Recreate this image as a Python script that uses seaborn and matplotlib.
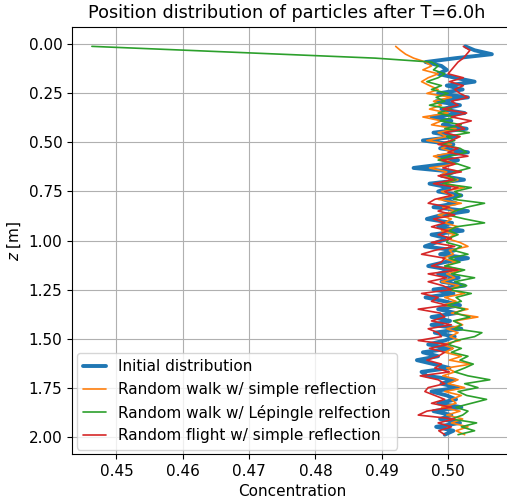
import numpy as np
import pandas as pd
import matplotlib
matplotlib.use("Agg")
import matplotlib.pyplot as plt
import seaborn as sns

# bin centres (m)
z_bins = [round(0.01 + 0.02 * i, 2) for i in range(100)]

initial = [
    0.5026, 0.5040, 0.5066, 0.5012, 0.4966, 0.4990, 0.4998, 0.4985, 0.5010, 0.5040,
    0.4998, 0.5022, 0.4985, 0.5030, 0.4982, 0.5018, 0.4990, 0.5025, 0.4975, 0.5005,
    0.4992, 0.5028, 0.4978, 0.5012, 0.4962, 0.5008, 0.4988, 0.5030, 0.4985, 0.5015,
    0.4995, 0.4948, 0.5010, 0.4990, 0.5024, 0.4972, 0.5002, 0.4985, 0.5020, 0.4993,
    0.5012, 0.4978, 0.5030, 0.4990, 0.4968, 0.5006, 0.4985, 0.5022, 0.4975, 0.5000,
    0.4982, 0.4965, 0.5010, 0.4988, 0.5030, 0.4995, 0.4970, 0.5005, 0.4985, 0.5016,
    0.4990, 0.5025, 0.4978, 0.5008, 0.4966, 0.4995, 0.5018, 0.4985, 0.5012, 0.4975,
    0.5003, 0.4975, 0.5020, 0.4980, 0.5010, 0.4995, 0.4970, 0.5005, 0.4962, 0.4985,
    0.4953, 0.4978, 0.5002, 0.4960, 0.4968, 0.5010, 0.4990, 0.5015, 0.4975, 0.4998,
    0.5012, 0.4985, 0.5020, 0.4978, 0.5005, 0.4988, 0.5018, 0.4982, 0.5008, 0.4995,
]

rw_simple = [
    0.4921, 0.4928, 0.4936, 0.4948, 0.4966, 0.4975, 0.4962, 0.4985, 0.4970, 0.4960,
    0.4972, 0.4985, 0.4968, 0.5005, 0.4978, 0.4990, 0.4972, 0.5000, 0.4962, 0.4990,
    0.4975, 0.5012, 0.4985, 0.4998, 0.4968, 0.5005, 0.4990, 0.5008, 0.4978, 0.4995,
    0.5012, 0.4972, 0.4998, 0.4988, 0.5015, 0.4995, 0.5025, 0.4990, 0.5008, 0.4985,
    0.5020, 0.4992, 0.5012, 0.4985, 0.5005, 0.4995, 0.5015, 0.4990, 0.5010, 0.4998,
    0.5018, 0.5030, 0.5002, 0.5008, 0.4992, 0.5012, 0.4995, 0.5020, 0.4998, 0.5010,
    0.4990, 0.5016, 0.5000, 0.5025, 0.4995, 0.5012, 0.4992, 0.5030, 0.5005, 0.5045,
    0.5010, 0.5022, 0.4998, 0.5015, 0.5003, 0.5018, 0.4990, 0.5008, 0.4995, 0.5020,
    0.5002, 0.5035, 0.4998, 0.5010, 0.4992, 0.5015, 0.5000, 0.5025, 0.4995, 0.5020,
    0.5005, 0.5012, 0.4990, 0.5018, 0.4998, 0.5022, 0.5005, 0.5030, 0.5012, 0.5025,
]

rw_lepingle = [
    0.4463, 0.4606, 0.4748, 0.4890, 0.4975, 0.4985, 0.4978, 0.4995, 0.4985, 0.4968,
    0.4990, 0.4975, 0.5000, 0.4982, 0.4995, 0.4972, 0.5005, 0.4985, 0.5010, 0.4988,
    0.5020, 0.4995, 0.5032, 0.4998, 0.5010, 0.4990, 0.5018, 0.5028, 0.5002, 0.4985,
    0.5015, 0.5033, 0.5010, 0.5000, 0.5012, 0.4992, 0.5035, 0.5010, 0.5020, 0.5008,
    0.5055, 0.5028, 0.5010, 0.5000, 0.5025, 0.5055, 0.5012, 0.5002, 0.5015, 0.5000,
    0.4998, 0.5020, 0.5008, 0.5030, 0.5002, 0.5018, 0.4995, 0.5025, 0.5005, 0.5040,
    0.5010, 0.5028, 0.5000, 0.5035, 0.5012, 0.5020, 0.4998, 0.5025, 0.5010, 0.5033,
    0.5008, 0.5020, 0.5010, 0.5051, 0.5040, 0.5012, 0.5000, 0.5020, 0.5005, 0.5030,
    0.5018, 0.5038, 0.5025, 0.5010, 0.5030, 0.5063, 0.5025, 0.5045, 0.5015, 0.5028,
    0.5058, 0.5035, 0.5012, 0.5030, 0.5022, 0.5005, 0.5043, 0.5020, 0.5040, 0.5015,
]

rf_simple = [
    0.5023, 0.5033, 0.5028, 0.5023, 0.5015, 0.5010, 0.5005, 0.5000, 0.5023, 0.5002,
    0.5023, 0.5010, 0.5018, 0.5030, 0.5005, 0.5015, 0.4992, 0.5028, 0.5005, 0.5035,
    0.5012, 0.5025, 0.4995, 0.5018, 0.5005, 0.4985, 0.5015, 0.5000, 0.5030, 0.4990,
    0.5010, 0.4992, 0.5020, 0.4985, 0.5008, 0.4978, 0.5015, 0.4995, 0.5005, 0.4980,
    0.4970, 0.5002, 0.4985, 0.5010, 0.4978, 0.4995, 0.4975, 0.5000, 0.4985, 0.5005,
    0.4975, 0.5010, 0.4980, 0.4960, 0.4995, 0.4990, 0.4975, 0.5015, 0.4970, 0.4998,
    0.4970, 0.4992, 0.5005, 0.4960, 0.4985, 0.4975, 0.4998, 0.4955, 0.4988, 0.4995,
    0.4975, 0.5005, 0.4970, 0.4985, 0.4990, 0.4955, 0.5000, 0.4972, 0.4995, 0.4985,
    0.4968, 0.4990, 0.4980, 0.5002, 0.4958, 0.4985, 0.4995, 0.4970, 0.4965, 0.4980,
    0.4995, 0.4975, 0.5005, 0.4968, 0.4955, 0.5010, 0.4985, 0.5005, 0.4986, 0.4995,
]

labels = [
    "Initial distribution",
    "Random walk w/ simple reflection",
    "Random walk w/ Lépingle relfection",
    "Random flight w/ simple reflection",
]
series = [initial, rw_simple, rw_lepingle, rf_simple]
colors = ["#1f77b4", "#ff7f0e", "#2ca02c", "#d62728"]
widths = [2.8, 1.2, 1.2, 1.2]

sns.set_style("white")
plt.rcParams["font.family"] = ["DejaVu Sans"]
for k in ["text.color", "axes.labelcolor", "xtick.color", "ytick.color"]:
    plt.rcParams[k] = "black"

fig = plt.figure(figsize=(5.07, 4.99), dpi=100)
ax = fig.add_axes([0.142, 0.090, 0.870, 0.856])

for lab, vals, c, lw in zip(labels, series, colors, widths):
    df = pd.DataFrame({"Concentration": vals, "z": z_bins})
    sns.lineplot(data=df, x="Concentration", y="z", sort=False, estimator=None,
                 color=c, lw=lw, label=lab, ax=ax)

ax.set_xlim(0.4433, 0.5098)
ax.set_ylim(2.089, -0.089)
ax.set_xticks([0.45, 0.46, 0.47, 0.48, 0.49, 0.50])
ax.set_yticks([0.0, 0.25, 0.5, 0.75, 1.0, 1.25, 1.5, 1.75, 2.0])
ax.xaxis.set_major_formatter(matplotlib.ticker.FormatStrFormatter("%.2f"))
ax.yaxis.set_major_formatter(matplotlib.ticker.FormatStrFormatter("%.2f"))
ax.grid(True, color="#b0b0b0", lw=0.8)
for s in ax.spines.values():
    s.set_color("black")
    s.set_linewidth(0.8)
ax.tick_params(axis="both", which="major", labelsize=11, length=3.5, width=0.8,
               color="black", direction="out", bottom=True, left=True)
ax.set_xlabel("Concentration", fontsize=11)
ax.set_ylabel("$z$ [m]", fontsize=11)
ax.text(0.487, 1.012, "Position distribution of particles after T=6.0h",
        transform=ax.transAxes, ha="center", va="bottom", fontsize=12.7, color="black")
ax.legend(loc="lower left", fontsize=11, frameon=True, borderaxespad=0.3,
          handlelength=1.5)

fig.savefig("out.png", dpi=100)
